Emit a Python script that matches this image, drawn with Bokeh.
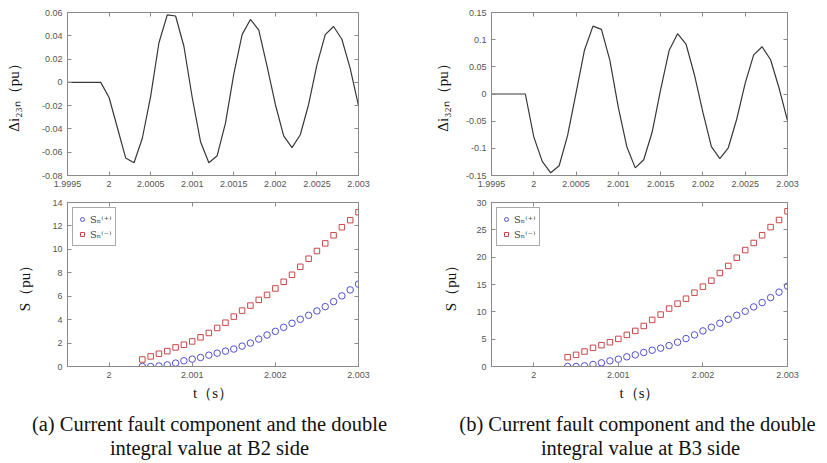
from bokeh.plotting import figure
from bokeh.models import Range1d, FixedTicker, LinearAxis, Legend, LegendItem
from bokeh.layouts import column, row
from bokeh.embed import file_html
from bokeh.resources import INLINE
from bokeh.core.properties import value

# ---------------- data ----------------
t_wave = [1.9995, 1.9996, 1.9997, 1.9998, 1.9999, 2.0000, 2.0001, 2.0002, 2.0003,
          2.0004, 2.0005, 2.0006, 2.0007, 2.0008, 2.0009, 2.0010, 2.0011, 2.0012,
          2.0013, 2.0014, 2.0015, 2.0016, 2.0017, 2.0018, 2.0019, 2.0020, 2.0021,
          2.0022, 2.0023, 2.0024, 2.0025, 2.0026, 2.0027, 2.0028, 2.0029, 2.0030]
di23n = [0, 0, 0, 0, 0, -0.013, -0.039, -0.065, -0.069, -0.048, -0.012, 0.034,
         0.058, 0.057, 0.031, -0.013, -0.051, -0.069, -0.063, -0.035, 0.007, 0.041,
         0.054, 0.045, 0.014, -0.019, -0.046, -0.056, -0.045, -0.019, 0.015, 0.041,
         0.048, 0.037, 0.012, -0.020]
di32n = [0, 0, 0, 0, 0, -0.079, -0.124, -0.145, -0.132, -0.076, 0.002, 0.081,
         0.125, 0.119, 0.062, -0.025, -0.097, -0.136, -0.121, -0.070, 0.008, 0.080,
         0.111, 0.092, 0.035, -0.034, -0.097, -0.119, -0.099, -0.046, 0.020, 0.072,
         0.087, 0.063, 0.011, -0.049]

t_s = [2.0004, 2.0005, 2.0006, 2.0007, 2.0008, 2.0009, 2.0010, 2.0011, 2.0012,
       2.0013, 2.0014, 2.0015, 2.0016, 2.0017, 2.0018, 2.0019, 2.0020, 2.0021,
       2.0022, 2.0023, 2.0024, 2.0025, 2.0026, 2.0027, 2.0028, 2.0029, 2.0030]
s_pos_b2 = [0, 0, 0.05, 0.14, 0.29, 0.49, 0.63, 0.77, 0.97, 1.14, 1.31, 1.49, 1.74,
            2.0, 2.34, 2.69, 3.0, 3.34, 3.69, 4.03, 4.37, 4.74, 5.11, 5.54, 6.03,
            6.54, 7.03]
s_neg_b2 = [0.6, 0.86, 1.09, 1.31, 1.63, 1.86, 2.14, 2.49, 2.86, 3.29, 3.74, 4.26,
            4.77, 5.2, 5.69, 6.11, 6.66, 7.23, 7.83, 8.51, 9.2, 9.86, 10.51, 11.2,
            11.89, 12.49, 13.17]
s_pos_b3 = [0, 0, 0.12, 0.37, 0.67, 1.03, 1.34, 1.77, 2.13, 2.56, 2.98, 3.35, 3.83,
            4.44, 5.11, 5.78, 6.51, 7.18, 7.91, 8.64, 9.37, 10.1, 10.9, 11.7, 12.6,
            13.6, 14.7]
s_neg_b3 = [1.7, 2.13, 2.74, 3.41, 3.9, 4.44, 5.05, 5.78, 6.51, 7.42, 8.52, 9.5,
            10.6, 11.5, 12.4, 13.5, 14.6, 15.7, 17.1, 18.4, 19.9, 21.3, 22.6, 24.0,
            25.5, 26.8, 28.4]

x_ticks_top = [1.9995, 2.0, 2.0005, 2.001, 2.0015, 2.002, 2.0025, 2.003]
x_labels_top = ["1.9995", "2", "2.0005", "2.001", "2.0015", "2.002", "2.0025", "2.003"]
x_ticks_bot = [2.0, 2.001, 2.002, 2.003]
x_labels_bot = ["2", "2.001", "2.002", "2.003"]
y_ticks_tl = [-0.08, -0.06, -0.04, -0.02, 0, 0.02, 0.04, 0.06]
y_labels_tl = ["-0.08", "-0.06", "-0.04", "-0.02", "0", "0.02", "0.04", "0.06"]
y_ticks_tr = [-0.15, -0.1, -0.05, 0, 0.05, 0.1, 0.15]
y_labels_tr = ["-0.15", "-0.1", "-0.05", "0", "0.05", "0.1", "0.15"]
y_ticks_bl = [0, 2, 4, 6, 8, 10, 12, 14]
y_ticks_br = [0, 5, 10, 15, 20, 25, 30]

ylabel_tl = "Δi₂₃ₙ（pu）"
ylabel_tr = "Δi₃₂ₙ（pu）"
ylabel_b = "S（pu）"
xlabel_b = "t（s）"
legend_labels = ["Sₙ⁽⁺⁾", "Sₙ⁽⁻⁾"]
captions = [["(a) Current fault component and the double", "integral value at B2 side"],
            ["(b) Current fault component and the double", "integral value at B3 side"]]

# ---------------- styling ----------------
FRAME = "#8a8a8a"
TICKLBL = "#555555"
BLUE = "#5050cc"
RED = "#c84848"


def make_fig(w, h, xr, yr, bl, br, bt, bb, xt, xl, yt, yl, ylabel, ystand,
             xlabel=None):
    p = figure(width=w, height=h, x_range=Range1d(*xr), y_range=Range1d(*yr),
               output_backend="svg", toolbar_location=None, title_location=None,
               min_border_left=bl, min_border_right=br,
               min_border_top=bt, min_border_bottom=bb)
    p.grid.visible = False
    p.outline_line_color = FRAME
    p.outline_line_width = 1
    for ax, ticks, labels in ((p.xaxis[0], xt, xl), (p.yaxis[0], yt, yl)):
        ax.ticker = FixedTicker(ticks=ticks)
        ax.major_label_overrides = {k: v for k, v in zip(ticks, labels)}
        ax.axis_line_color = FRAME
        ax.major_tick_line_color = FRAME
        ax.major_tick_in = 4
        ax.major_tick_out = 0
        ax.minor_tick_line_color = None
        ax.major_label_text_font = "Liberation Sans"
        ax.major_label_text_font_size = "9px"
        ax.major_label_text_color = TICKLBL
        ax.major_label_standoff = 5
        ax.axis_label_text_font = "Liberation Serif"
        ax.axis_label_text_font_style = "normal"
        ax.axis_label_text_font_size = "15px"
        ax.axis_label_text_color = "#111111"
    p.yaxis[0].axis_label = ylabel
    p.yaxis[0].axis_label_standoff = ystand
    if xlabel:
        p.xaxis[0].axis_label = xlabel
        p.xaxis[0].axis_label_standoff = 4
    for side, ticks in (("above", xt), ("right", yt)):
        ax = LinearAxis(ticker=FixedTicker(ticks=ticks),
                        major_label_text_font_size="1px",
                        major_label_text_color=None,
                        major_tick_in=4, major_tick_out=0, axis_line_color=None,
                        major_tick_line_color=FRAME, minor_tick_line_color=None,
                        major_label_standoff=0)
        p.add_layout(ax, side)
    return p


XR = (1.9995, 2.003)

tl = make_fig(424, 193, XR, (-0.08, 0.06), 67, 66, 12, 18,
              x_ticks_top, x_labels_top, y_ticks_tl, y_labels_tl, ylabel_tl, 17)
tl.line(t_wave, di23n, line_color="#383838", line_width=1.2)

tr = make_fig(395, 193, XR, (-0.15, 0.15), 67, 32, 9, 17,
              x_ticks_top, x_labels_top, y_ticks_tr, y_labels_tr, ylabel_tr, 12)
tr.line(t_wave, di32n, line_color="#383838", line_width=1.2)


def add_scatter(p, pos, neg):
    r1 = p.scatter(t_s, pos, marker="circle", size=6.5, fill_color=None,
                   line_color=BLUE, line_width=1)
    r2 = p.scatter(t_s, neg, marker="square", size=5.5, fill_color=None,
                   line_color=RED, line_width=1)
    lg = Legend(items=[LegendItem(label=legend_labels[0], renderers=[r1]),
                       LegendItem(label=legend_labels[1], renderers=[r2])],
                location="top_left", margin=5, padding=4, spacing=1,
                label_text_font="DejaVu Serif", label_text_font_size="10px",
                label_height=14, glyph_width=10, glyph_height=12, label_standoff=3,
                border_line_color="#555555", border_line_width=1,
                background_fill_alpha=1.0)
    p.add_layout(lg)


bl = make_fig(424, 215, XR, (0, 14), 67, 66, 9, 42,
              x_ticks_bot, x_labels_bot, y_ticks_bl, [str(v) for v in y_ticks_bl],
              ylabel_b, 16, xlabel_b)
add_scatter(bl, s_pos_b2, s_neg_b2)

br = make_fig(395, 215, XR, (0, 30), 67, 32, 9, 42,
              x_ticks_bot, x_labels_bot, y_ticks_br, [str(v) for v in y_ticks_br],
              ylabel_b, 14, xlabel_b)
add_scatter(br, s_pos_b3, s_neg_b3)

cap = figure(width=819, height=55, x_range=Range1d(0, 819), y_range=Range1d(55, 0),
             output_backend="svg", toolbar_location=None, title_location=None,
             min_border_left=0, min_border_right=0, min_border_top=0, min_border_bottom=0)
cap.axis.visible = False
cap.grid.visible = False
cap.outline_line_color = None
cap.text(x=[209, 209], y=[15, 39], text=captions[0], text_font=value("Liberation Serif"),
         text_font_size="20.5px", text_align="center", text_baseline="alphabetic",
         text_color="#111111")
cap.text(x=[637, 640], y=[15, 39], text=captions[1], text_font=value("Liberation Serif"),
         text_font_size="20.5px", text_align="center", text_baseline="alphabetic",
         text_color="#111111")

layout = column(row(tl, tr), row(bl, br), cap)

open("out.html", "w").write(file_html(layout, INLINE))
